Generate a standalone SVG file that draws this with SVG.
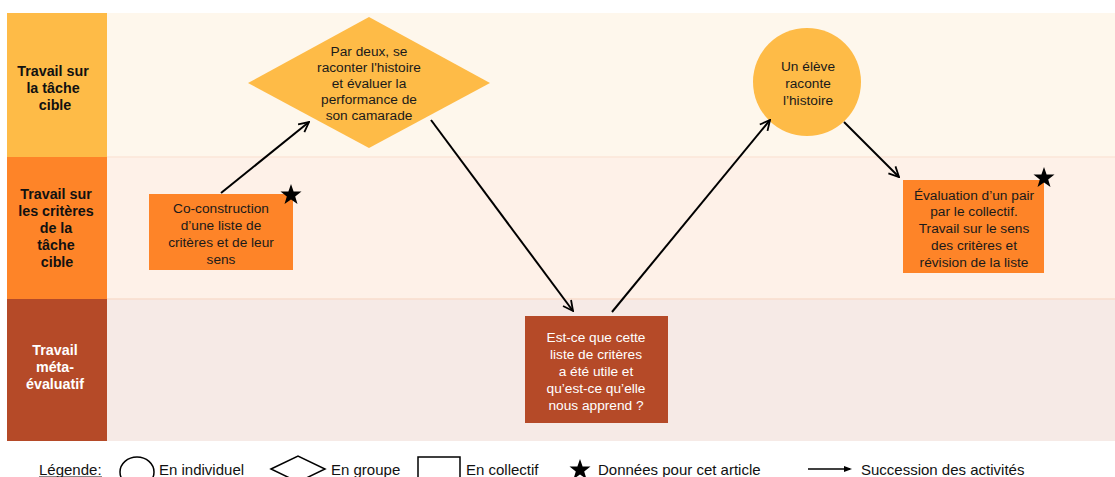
<svg xmlns="http://www.w3.org/2000/svg" width="1115" height="477" viewBox="0 0 1115 477">
<defs>
<style>
text{font-family:"Liberation Sans",Arial,sans-serif;}
.t{font-size:13.7px;fill:#1a1a1a;text-anchor:middle;}
.w{font-size:13.7px;fill:#ffffff;text-anchor:middle;}
.lb{font-size:14.3px;font-weight:bold;fill:#111;text-anchor:middle;}
.lbw{font-size:14.3px;font-weight:bold;fill:#fff;text-anchor:middle;}
.lg{font-size:15px;fill:#111;}
.c{stroke:#000;stroke-width:2;fill:none;}
</style>
<marker id="ah" viewBox="0 0 12 12" refX="11" refY="6" markerWidth="12" markerHeight="12" markerUnits="userSpaceOnUse" orient="auto">
<path d="M1,1 L11,6 L1,11" fill="none" stroke="#000" stroke-width="1.8"/>
</marker>
<path id="star" d="M0,-11 L2.6,-3.6 L10.5,-3.4 L4.2,1.4 L6.5,9 L0,4.5 L-6.5,9 L-4.2,1.4 L-10.5,-3.4 L-2.6,-3.6 Z"/>
</defs>
<rect width="1115" height="477" fill="#ffffff"/>
<g id="lanes">
<rect x="107" y="13" width="1008" height="144" fill="#FEF7EC"/>
<rect x="107" y="157" width="1008" height="142" fill="#FEF1E8"/>
<rect x="107" y="299" width="1008" height="142" fill="#F6EAE6"/>
<line x1="107" y1="157" x2="1115" y2="157" stroke="#FBE6D8" stroke-width="1.5"/>
<line x1="107" y1="299" x2="1115" y2="299" stroke="#F8DCCD" stroke-width="1.5"/>
</g>
<g id="lane-1">
<rect x="7" y="13" width="100" height="144" fill="#FEBB47"/>
<text class="lb" x="53" y="76">Travail sur</text>
<text class="lb" x="53" y="93">la tâche</text>
<text class="lb" x="55" y="110">cible</text>
</g>
<g id="lane-2">
<rect x="7" y="157" width="100" height="142" fill="#FE8428"/>
<text class="lb" x="56" y="199">Travail sur</text>
<text class="lb" x="56" y="216">les critères</text>
<text class="lb" x="56" y="233">de la</text>
<text class="lb" x="56" y="250">tâche</text>
<text class="lb" x="57" y="267">cible</text>
</g>
<g id="lane-3">
<rect x="7" y="299" width="100" height="142" fill="#B54A28"/>
<text class="lbw" x="55" y="355">Travail</text>
<text class="lbw" x="55" y="372">méta-</text>
<text class="lbw" x="55" y="389">évaluatif</text>
</g>
<g id="node-coconstruction">
<rect x="149" y="194" width="144" height="76" fill="#FE8428"/>
<text class="t" x="221" y="213">Co-construction</text>
<text class="t" x="221" y="230">d’une liste de</text>
<text class="t" x="221" y="247">critères et de leur</text>
<text class="t" x="221" y="264">sens</text>
<use href="#star" x="291" y="195"/>
</g>
<g id="node-pardeux">
<polygon points="248,83 369,17 490,83 369,148" fill="#FEBB47"/>
<text class="t" x="369" y="56">Par deux, se</text>
<text class="t" x="369" y="72">raconter l'histoire</text>
<text class="t" x="369" y="88">et évaluer la</text>
<text class="t" x="369" y="104">performance de</text>
<text class="t" x="369" y="120">son camarade</text>
</g>
<g id="node-metaeval">
<rect x="525" y="316" width="143" height="107" fill="#B54A28"/>
<text class="w" x="596" y="342">Est-ce que cette</text>
<text class="w" x="596" y="359">liste de critères</text>
<text class="w" x="596" y="376">a été utile et</text>
<text class="w" x="596" y="393">qu’est-ce qu’elle</text>
<text class="w" x="596" y="410">nous apprend ?</text>
</g>
<g id="node-eleve">
<ellipse cx="807" cy="82" rx="54" ry="54" fill="#FEBB47"/>
<text class="t" x="808" y="71">Un élève</text>
<text class="t" x="808" y="88">raconte</text>
<text class="t" x="808" y="105">l’histoire</text>
</g>
<g id="node-evaluation">
<rect x="903" y="180" width="141" height="93" fill="#FE8428"/>
<text class="t" x="974" y="200">Évaluation d’un pair</text>
<text class="t" x="974" y="216">par le collectif.</text>
<text class="t" x="974" y="233">Travail sur le sens</text>
<text class="t" x="974" y="250">des critères et</text>
<text class="t" x="974" y="267">révision de la liste</text>
<use href="#star" x="1044" y="178"/>
</g>
<g id="connectors">
<line class="c" x1="221" y1="193" x2="309" y2="122" marker-end="url(#ah)"/>
<line class="c" x1="431" y1="120" x2="573" y2="311" marker-end="url(#ah)"/>
<line class="c" x1="612" y1="312" x2="770" y2="120" marker-end="url(#ah)"/>
<line class="c" x1="844" y1="122" x2="899" y2="177" marker-end="url(#ah)"/>
</g>
<g id="legend">
<text class="lg" x="39" y="475">Légende:</text>
<line x1="39" y1="477" x2="102" y2="477" stroke="#111" stroke-width="1"/>
<ellipse cx="137" cy="472" rx="17" ry="15" fill="none" stroke="#000" stroke-width="1.5"/>
<text class="lg" x="159" y="475">En individuel</text>
<polygon points="271,469 298,456 325,469 298,482" fill="none" stroke="#000" stroke-width="1.5"/>
<text class="lg" x="331" y="475">En groupe</text>
<rect x="418" y="457" width="42" height="30" fill="none" stroke="#000" stroke-width="1.5"/>
<text class="lg" x="466" y="475">En collectif</text>
<use href="#star" x="580" y="470"/>
<text class="lg" x="598" y="475">Données pour cet article</text>
<line x1="808" y1="469" x2="850" y2="469" stroke="#000" stroke-width="1.5"/>
<path d="M844,466 L852,469 L844,472 Z" fill="#000"/>
<text class="lg" x="861" y="475">Succession des activités</text>
</g>
</svg>
